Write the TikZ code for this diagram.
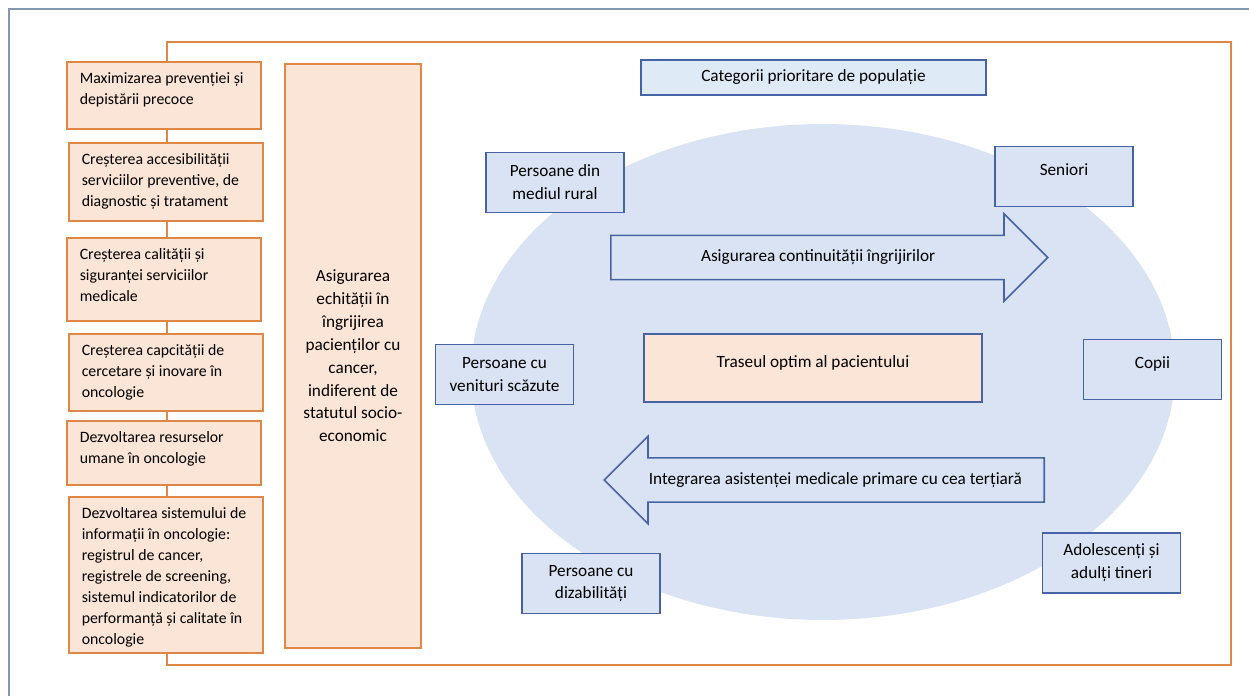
\documentclass[tikz,border=0pt]{standalone}
\usepackage{fontspec}
\setmainfont{Carlito}
\usetikzlibrary{shapes.arrows}
\definecolor{boxorange}{RGB}{222,135,70}
\definecolor{peach}{RGB}{251,229,214}
\definecolor{boxblue}{RGB}{70,100,165}
\definecolor{lightblue}{RGB}{218,227,243}
\definecolor{paleblue}{RGB}{222,235,247}
\definecolor{pageline}{RGB}{132,151,176}
\newcommand{\lfont}{\fontsize{9}{12}\selectfont}
\newcommand{\rfont}{\fontsize{9.8}{13}\selectfont}
\newcommand{\goaltext}[2]{\parbox[c][#1][t]{3.36cm}{\raggedright #2}}
\tikzset{goal/.style = {draw=boxorange, fill=peach, line width=0.9pt, inner xsep=0.26cm, inner ysep=0.21cm, anchor=north west, font=\lfont}}
\tikzset{grp/.style = {draw=boxblue, fill=lightblue, line width=0.9pt, minimum width=2.76cm, minimum height=1.2cm, align=center, font=\rfont}}
\tikzset{oneline/.style = {text depth=0.27cm}}
\tikzset{band/.style = {single arrow, draw=boxblue, line width=0.9pt, anchor=tail, single arrow head extend=0.43cm, single arrow head indent=0pt, text height=7pt, text depth=2pt, inner ysep=0.27cm, font=\rfont}}

\begin{document}
\begin{tikzpicture}[x=0.02cm, y=-0.02cm]
      \useasboundingbox (0,0) rectangle (1249,696);
      \draw [pageline, line width=1.2pt] (9,696) -- (9,9) -- (1249,9);
      \draw [boxorange, line width=0.9pt] (167,42) rectangle (1231,665);
      % objectives
      \node [goal] (g1) at (66,61) {\goaltext{0.92cm}{Maximizarea prevenției și\\ depistării precoce}};
      \node [goal] (g2) at (68,142) {\goaltext{1.14cm}{Creșterea accesibilității\\ serviciilor preventive, de\\ diagnostic și tratament}};
      \node [goal] (g3) at (66,237) {\goaltext{1.24cm}{Creșterea calității și\\ siguranței serviciilor\\ medicale}};
      \node [goal] (g4) at (68,333) {\goaltext{1.12cm}{Creșterea capcității de\\ cercetare și inovare în\\ oncologie}};
      \node [goal] (g5) at (66,420) {\goaltext{0.86cm}{Dezvoltarea resurselor\\ umane în oncologie}};
      \node [goal] (g6) at (68,496) {\goaltext{2.70cm}{Dezvoltarea sistemului de\\ informații în oncologie:\\ registrul de cancer,\\ registrele de screening,\\ sistemul indicatorilor de\\ performanță și calitate în\\ oncologie}};
      \node [goal, anchor=center, minimum width=2.72cm, minimum height=11.68cm, align=center, font=\fontsize{9.8}{13}\selectfont] (equity) at (353,356) {Asigurarea\\ echității în\\ îngrijirea\\ pacienților cu\\ cancer,\\ indiferent de\\ statutul socio-\\ economic};
      % population groups
      \fill [lightblue] (823,372) ellipse [x radius=7.04cm, y radius=4.96cm];
      \node [grp, fill=paleblue, minimum width=6.9cm, minimum height=0.7cm] (title) at (813.5,77.5) {Categorii prioritare de populație};
      \node [grp] (rural) at (555,182.5) {Persoane din\\ mediul rural};
      \node [grp, oneline] (senior) at (1064,176.5) {Seniori};
      \node [grp] (income) at (504.5,374.5) {Persoane cu\\ venituri scăzute};
      \node [grp, oneline, fill=peach, minimum width=6.76cm, minimum height=1.36cm] (path) at (813,368) {Traseul optim al pacientului};
      \node [grp, oneline] (child) at (1152.5,369.5) {Copii};
      \node [grp] (disab) at (591,583.5) {Persoane cu\\ dizabilități};
      \node [grp] (young) at (1111.5,563) {Adolescenți și\\ adulți tineri};
      \node [band, minimum height=8.74cm] (cont) at (610,257.5) {Asigurarea continuității îngrijirilor};
      \node [band, shape border rotate=180, minimum height=8.8cm] (integ) at (1045,480) {Integrarea asistenței medicale primare cu cea terțiară};
    \end{tikzpicture}
\end{document}
